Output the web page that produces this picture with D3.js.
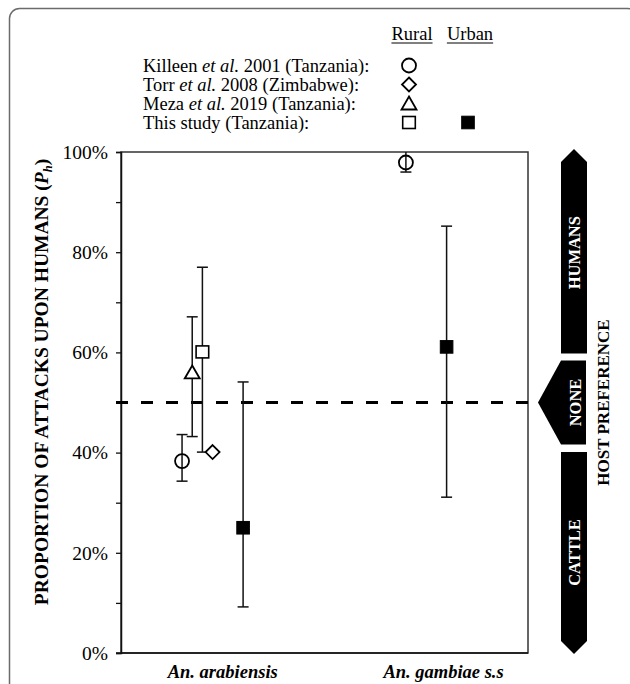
<!DOCTYPE html>
<html>
<head>
<meta charset="utf-8">
<script src="https://cdn.jsdelivr.net/npm/d3@7"></script>
<style>
  body { margin: 0; background: #fff; }
  svg text { font-family: "Liberation Serif", "Times New Roman", serif; }
</style>
</head>
<body>
<div id="chart"></div>
<script>
"use strict";

var width = 630;
var height = 684;

// categories and where their labels sit on the x scale
var categories = ["An. arabiensis", "An. gambiae s.s"];
var categoryX = [1.0, 3.17];

// legend: studies (prefix, italic part, suffix)
var studyNames = ["Killeen", "Torr", "Meza", "This study (Tanzania):"];
var studyTails = [" 2001 (Tanzania):", " 2008 (Zimbabwe):", " 2019 (Tanzania):", ""];
var studyShapes = ["circle", "diamond", "triangle", "square"];

// plotted points (x value, Ph in %, error bar low/high in %)
var pointShape = ["circle", "triangle", "square", "diamond", "filled", "circle", "filled"];
var pointX     = [0.6, 0.7, 0.8, 0.9, 1.2, 2.8, 3.2];
var pointValue = [38.3, 56, 60.1, 40.1, 25, 97.9, 61.1];
var errLow     = [34.3, 43.2, 40.1, null, 9.2, 96, 31.1];
var errHigh    = [43.6, 67.1, 77, null, 54.1, 100, 85.2];

var yTicks = [0, 10, 20, 30, 40, 50, 60, 70, 80, 90, 100];

// host preference zones on the right (in %)
var zoneNames = ["HUMANS", "NONE", "CATTLE"];
var zoneLow   = [59.8, 41.6, 0];
var zoneHigh  = [100, 58.4, 40.1];

var plotLeft = 121, plotRight = 528, plotTop = 152, plotBottom = 653;

var xScale = d3.scaleLinear().domain([0, 4]).range([plotLeft, plotRight]);
var yScale = d3.scaleLinear().domain([0, 100]).range([plotBottom, plotTop]);

var svg = d3.select("#chart")
  .append("svg")
  .attr("width", width)
  .attr("height", height);

// outer figure border (rounded, runs off the bottom/right)
svg.append("rect")
  .attr("x", 9.5).attr("y", 8.5)
  .attr("width", 628).attr("height", 720)
  .attr("rx", 10)
  .attr("fill", "none")
  .attr("stroke", "#6b6b6b")
  .attr("stroke-width", 1.5);

// plot frame
svg.append("rect")
  .attr("x", plotLeft).attr("y", plotTop)
  .attr("width", plotRight - plotLeft).attr("height", plotBottom - plotTop)
  .attr("fill", "none")
  .attr("stroke", "#333")
  .attr("stroke-width", 1.5);

// y axis
var yAxis = d3.axisLeft(yScale)
  .tickValues(yTicks)
  .tickSize(5)
  .tickPadding(8)
  .tickFormat(function(d) { return d % 20 === 0 ? d + "%" : ""; });

var gy = svg.append("g")
  .attr("transform", "translate(" + plotLeft + ",0)")
  .call(yAxis)
  .attr("font-family", null);
gy.select(".domain").attr("stroke", "#111").attr("stroke-width", 1.5);
gy.selectAll(".tick line").attr("stroke", "#111").attr("stroke-width", 1.3);
gy.selectAll(".tick text")
  .style("font-family", "'Liberation Serif', serif")
  .attr("font-size", "19.5px")
  .attr("fill", "#000");

// bottom axis line
svg.append("line")
  .attr("x1", plotLeft - 5).attr("x2", plotRight)
  .attr("y1", plotBottom).attr("y2", plotBottom)
  .attr("stroke", "#111").attr("stroke-width", 1.5);

// y axis title
var ytitle = svg.append("text")
  .attr("transform", "translate(48,382) rotate(-90)")
  .attr("text-anchor", "middle")
  .attr("font-weight", "bold")
  .attr("font-size", "19.5px");
ytitle.append("tspan").text("PROPORTION OF ATTACKS UPON HUMANS (");
ytitle.append("tspan").attr("font-style", "italic").text("P");
ytitle.append("tspan").attr("font-style", "italic").attr("font-size", "12.5px").attr("dy", 4).text("h");
ytitle.append("tspan").attr("dy", -4).text(")");

// category labels
svg.selectAll(".cat")
  .data(categories)
  .enter()
  .append("text")
  .attr("class", "cat")
  .attr("x", function(d, i) { return xScale(categoryX[i]); })
  .attr("y", 678)
  .attr("text-anchor", "middle")
  .attr("font-weight", "bold")
  .attr("font-style", "italic")
  .attr("font-size", "18.5px")
  .text(function(d) { return d; });

// 50% dashed line
svg.append("line")
  .attr("x1", plotLeft - 5).attr("x2", plotRight)
  .attr("y1", yScale(50)).attr("y2", yScale(50))
  .attr("stroke", "#000")
  .attr("stroke-width", 3)
  .attr("stroke-dasharray", "12,13");

// error bars
var idx = d3.range(pointValue.length).filter(function(i) { return errLow[i] !== null; });
var bars = svg.selectAll(".err")
  .data(idx)
  .enter()
  .append("g")
  .attr("class", "err")
  .attr("stroke", "#111")
  .attr("stroke-width", 1.5);
bars.append("line")
  .attr("x1", function(i) { return xScale(pointX[i]); })
  .attr("x2", function(i) { return xScale(pointX[i]); })
  .attr("y1", function(i) { return yScale(errLow[i]); })
  .attr("y2", function(i) { return yScale(errHigh[i]); });
bars.append("line")
  .attr("x1", function(i) { return xScale(pointX[i]) - 5.5; })
  .attr("x2", function(i) { return xScale(pointX[i]) + 5.5; })
  .attr("y1", function(i) { return yScale(errLow[i]); })
  .attr("y2", function(i) { return yScale(errLow[i]); });
bars.filter(function(i) { return errHigh[i] < 100; })
  .append("line")
  .attr("x1", function(i) { return xScale(pointX[i]) - 5.5; })
  .attr("x2", function(i) { return xScale(pointX[i]) + 5.5; })
  .attr("y1", function(i) { return yScale(errHigh[i]); })
  .attr("y2", function(i) { return yScale(errHigh[i]); });

// marker drawing
function drawMarker(g, shape, cx, cy) {
  if (shape === "circle") {
    g.append("circle").attr("cx", cx).attr("cy", cy).attr("r", 7)
      .attr("fill", "none").attr("stroke", "#000").attr("stroke-width", 1.8);
  } else if (shape === "square") {
    g.append("rect").attr("x", cx - 6.3).attr("y", cy - 6).attr("width", 12.6).attr("height", 12)
      .attr("fill", "#fff").attr("stroke", "#000").attr("stroke-width", 1.6);
  } else if (shape === "filled") {
    g.append("rect").attr("x", cx - 6.3).attr("y", cy - 6.3).attr("width", 12.6).attr("height", 12.6)
      .attr("fill", "#000").attr("stroke", "#000").attr("stroke-width", 1);
  } else if (shape === "triangle") {
    g.append("path")
      .attr("d", "M" + cx + "," + (cy - 7) + "L" + (cx + 7.5) + "," + (cy + 6) + "L" + (cx - 7.5) + "," + (cy + 6) + "Z")
      .attr("fill", "#fff").attr("stroke", "#000").attr("stroke-width", 1.8);
  } else if (shape === "diamond") {
    g.append("path")
      .attr("d", "M" + cx + "," + (cy - 7) + "L" + (cx + 7) + "," + cy + "L" + cx + "," + (cy + 7) + "L" + (cx - 7) + "," + cy + "Z")
      .attr("fill", "#fff").attr("stroke", "#000").attr("stroke-width", 1.8);
  }
}

var marks = svg.append("g");
pointValue.forEach(function(v, i) {
  drawMarker(marks, pointShape[i], xScale(pointX[i]), yScale(v));
});

// legend
var legX = 143, ruralX = 409, urbanX = 468;
[["Rural", ruralX + 3], ["Urban", urbanX + 2]].forEach(function(h) {
  var t = svg.append("text")
    .attr("x", h[1]).attr("y", 40)
    .attr("text-anchor", "middle")
    .attr("font-size", "18.5px")
    .text(h[0]);
  var w = t.node().getComputedTextLength();
  svg.append("line")
    .attr("x1", h[1] - w / 2).attr("x2", h[1] + w / 2)
    .attr("y1", 43).attr("y2", 43)
    .attr("stroke", "#000").attr("stroke-width", 1);
});

studyNames.forEach(function(name, i) {
  var y = 72 + i * 19;
  var t = svg.append("text")
    .attr("x", legX).attr("y", y)
    .attr("font-size", "18.5px");
  if (studyTails[i] !== "") {
    t.append("tspan").text(name + " ");
    t.append("tspan").attr("font-style", "italic").text("et al.");
    t.append("tspan").text(studyTails[i]);
  } else {
    t.append("tspan").text(name);
  }
  drawMarker(svg, studyShapes[i], ruralX, y - 6.5);
});
drawMarker(svg, "filled", urbanX, 72 + 3 * 19 - 6.5);

// host preference zones
var zx0 = 561, zx1 = 587, tip = 13;
var zoneG = svg.append("g");
zoneNames.forEach(function(name, i) {
  var y0 = yScale(zoneHigh[i]), y1 = yScale(zoneLow[i]);
  var pts;
  if (name === "HUMANS") {
    y0 = yScale(zoneHigh[i]) - 3;
    pts = [[(zx0 + zx1) / 2, y0], [zx1, y0 + tip], [zx1, y1], [zx0, y1], [zx0, y0 + tip]];
  } else if (name === "CATTLE") {
    y1 = yScale(zoneLow[i]) + 1;
    pts = [[zx0, y0], [zx1, y0], [zx1, y1 - tip], [(zx0 + zx1) / 2, y1], [zx0, y1 - tip]];
  } else {
    pts = [[zx0, y0], [zx1 - 1, y0], [zx1 - 1, y1], [zx0, y1], [538, yScale(50)]];
  }
  zoneG.append("polygon")
    .attr("points", pts.map(function(p) { return p.join(","); }).join(" "))
    .attr("fill", "#000");
  var cy = (name === "NONE") ? yScale(50) : (yScale(zoneHigh[i]) + yScale(zoneLow[i])) / 2;
  var cx = (name === "NONE") ? 575 : (zx0 + zx1) / 2;
  zoneG.append("text")
    .attr("transform", "translate(" + (cx + 6) + "," + cy + ") rotate(-90)")
    .attr("text-anchor", "middle")
    .attr("font-weight", "bold")
    .attr("font-size", "16.5px")
    .attr("fill", "#fff")
    .text(name);
});

svg.append("text")
  .attr("transform", "translate(609," + yScale(50) + ") rotate(-90)")
  .attr("text-anchor", "middle")
  .attr("font-weight", "bold")
  .attr("font-size", "17px")
  .text("HOST PREFERENCE");
</script>
</body>
</html>
